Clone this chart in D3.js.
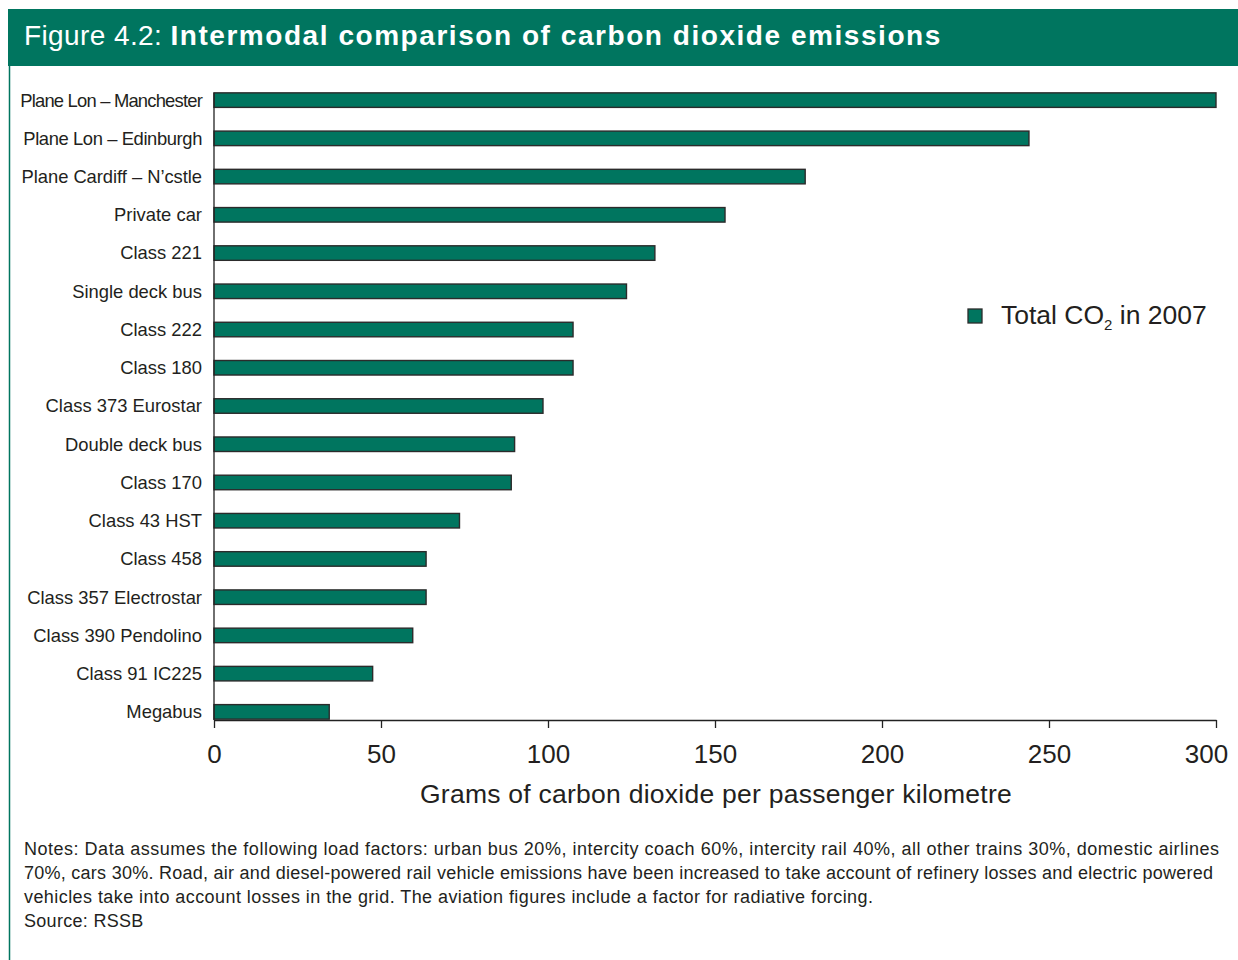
<!DOCTYPE html>
<html>
<head>
<meta charset="utf-8">
<script src="https://cdn.jsdelivr.net/npm/d3@7"></script>
<style>
  body { margin: 0; background: #fff; }
  svg { display: block; font-family: "Liberation Sans", Arial, Helvetica, sans-serif; }
</style>
</head>
<body>
<div id="chart"></div>
<script>
const categories = [
    "Plane Lon – Manchester", "Plane Lon – Edinburgh", "Plane Cardiff – N’cstle",
    "Private car", "Class 221", "Single deck bus", "Class 222", "Class 180",
    "Class 373 Eurostar", "Double deck bus", "Class 170", "Class 43 HST",
    "Class 458", "Class 357 Electrostar", "Class 390 Pendolino", "Class 91 IC225", "Megabus"
];
const co2Values = [300, 244, 177, 153, 132, 123.5, 107.5, 107.5, 98.5, 90, 89, 73.5, 63.5, 63.5, 59.5, 47.5, 34.5];
const xTicks = [0, 50, 100, 150, 200, 250, 300];
const notes = [
    "Notes: Data assumes the following load factors: urban bus 20%, intercity coach 60%, intercity rail 40%, all other trains 30%, domestic airlines",
    "70%, cars 30%. Road, air and diesel-powered rail vehicle emissions have been increased to take account of refinery losses and electric powered",
    "vehicles take into account losses in the grid. The aviation figures include a factor for radiative forcing.",
    "Source: RSSB"
];
// line widths of the notes as printed
const noteWidths = [1195, 1189, 849, null];

const green = "#00755f";
const ink = "#231f20";

const svg = d3.select("#chart").append("svg")
    .attr("width", 1238)
    .attr("height", 960);

// header band
svg.append("rect")
    .attr("x", 8).attr("y", 9)
    .attr("width", 1230).attr("height", 57)
    .attr("fill", green);
svg.append("line")
    .attr("x1", 9.5).attr("x2", 9.5)
    .attr("y1", 66).attr("y2", 960)
    .attr("stroke", green).attr("stroke-width", 1.5);

const title = svg.append("text")
    .attr("x", 24).attr("y", 45)
    .attr("fill", "#fff")
    .attr("font-size", 28);
title.append("tspan").attr("letter-spacing", "0.4px").text("Figure 4.2: ");
title.append("tspan").attr("font-weight", "bold").attr("letter-spacing", "1.55px")
    .text("Intermodal comparison of carbon dioxide emissions");

const x = d3.scaleLinear().domain([0, 300]).range([214, 1216]);
const y = d3.scaleBand().domain(categories).range([81, 731])
    .paddingInner(0.62).paddingOuter(0.31);

// bars
svg.append("g").selectAll("rect")
    .data(categories)
    .join("rect")
    .attr("x", x(0))
    .attr("y", d => y(d))
    .attr("width", (d, i) => x(co2Values[i]) - x(0))
    .attr("height", y.bandwidth())
    .attr("fill", green)
    .attr("stroke", "#2b2b2b")
    .attr("stroke-width", 1.4);

// category labels
const labelSpacing = {
    "Plane Lon – Manchester": "-0.8px",
    "Plane Lon – Edinburgh": "-0.4px",
    "Plane Cardiff – N’cstle": "-0.05px"
};
svg.append("g").selectAll("text")
    .data(categories)
    .join("text")
    .attr("x", 202)
    .attr("y", d => y(d) + y.bandwidth() / 2)
    .attr("dy", "0.35em")
    .attr("text-anchor", "end")
    .attr("font-size", 18.4)
    .attr("fill", ink)
    .attr("letter-spacing", d => labelSpacing[d] || null)
    .text(d => d);

// y axis line
svg.append("line")
    .attr("x1", 214).attr("x2", 214)
    .attr("y1", y(categories[0])).attr("y2", 720)
    .attr("stroke", "#222").attr("stroke-width", 1.3);

// x axis
const xAxis = svg.append("g")
    .attr("transform", "translate(0,720)")
    .call(d3.axisBottom(x).tickValues(xTicks).tickSize(8).tickSizeOuter(0).tickPadding(17));
xAxis.select(".domain").attr("stroke", "#222").attr("stroke-width", 1.3);
xAxis.selectAll(".tick line").attr("stroke", "#222").attr("stroke-width", 1.3);
xAxis.selectAll(".tick text")
    .attr("font-size", 26)
    .attr("fill", ink)
    .attr("font-family", "Liberation Sans, Arial, sans-serif")
    .attr("dx", d => d === 300 ? -10 : 0);

svg.append("text")
    .attr("x", 716).attr("y", 803)
    .attr("text-anchor", "middle")
    .attr("font-size", 26.5)
    .attr("letter-spacing", "0.25px")
    .attr("fill", ink)
    .text("Grams of carbon dioxide per passenger kilometre");

// legend
svg.append("rect")
    .attr("x", 968).attr("y", 309)
    .attr("width", 14).attr("height", 14)
    .attr("fill", green)
    .attr("stroke", "#2b2b2b").attr("stroke-width", 1.3);
const leg = svg.append("text")
    .attr("x", 1001).attr("y", 324)
    .attr("font-size", 26.5)
    .attr("fill", ink);
leg.append("tspan").text("Total CO");
leg.append("tspan").attr("font-size", 15).attr("dy", 6).text("2");
leg.append("tspan").attr("dy", -6).text(" in 2007");

// notes
svg.append("g").selectAll("text")
    .data(notes)
    .join("text")
    .attr("x", 24)
    .attr("y", (d, i) => 855 + i * 24)
    .attr("font-size", 18)
    .attr("fill", ink)
    .attr("textLength", (d, i) => noteWidths[i])
    .attr("lengthAdjust", "spacing")
    .attr("letter-spacing", (d, i) => noteWidths[i] ? null : "0.3px")
    .text(d => d);
</script>
</body>
</html>
